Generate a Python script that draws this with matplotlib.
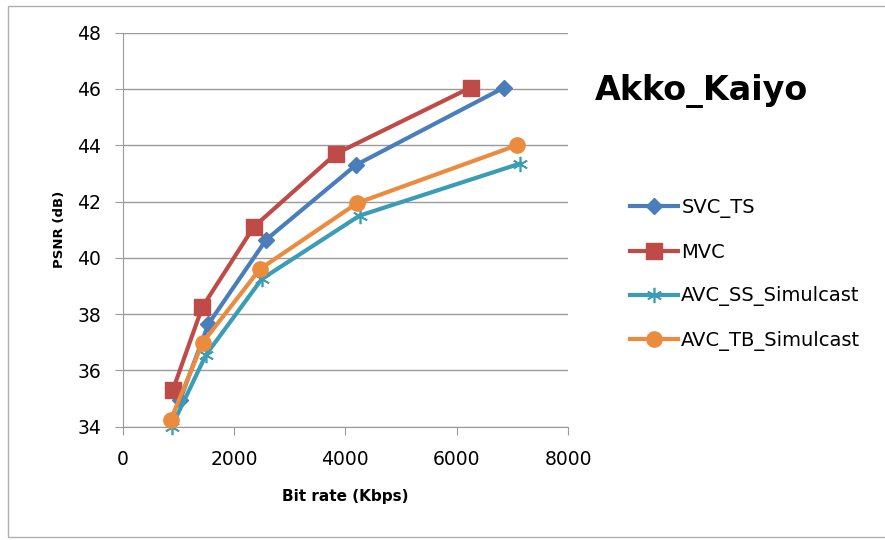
import matplotlib.pyplot as plt
from matplotlib.patches import Rectangle

plt.rcParams['font.family'] = ['DejaVu Sans']

# data
svc_x = [1030, 1540, 2580, 4190, 6850]
svc_y = [34.95, 37.65, 40.65, 43.3, 46.05]
mvc_x = [900, 1430, 2355, 3830, 6250]
mvc_y = [35.3, 38.25, 41.1, 43.7, 46.05]
ss_x = [880, 1495, 2500, 4255, 7140]
ss_y = [34.0, 36.55, 39.25, 41.5, 43.35]
tb_x = [865, 1435, 2465, 4215, 7080]
tb_y = [34.25, 36.98, 39.6, 41.95, 44.0]

labels = ['SVC_TS', 'MVC', 'AVC_SS_Simulcast', 'AVC_TB_Simulcast']
xticks = [0, 2000, 4000, 6000, 8000]
yticks = [34, 36, 38, 40, 42, 44, 46, 48]

W, H = 885, 540
fig = plt.figure(figsize=(W / 100, H / 100), dpi=100)
ax = fig.add_axes([122.7 / W, 1 - 426.7 / H, 445.3 / W, 394 / H])

# outer chart frame
fig.patches.append(Rectangle((8 / W, 1 - 537 / H), 1.0, (537 - 6) / H, transform=fig.transFigure,
                             fill=False, edgecolor='#b0b0b0', lw=1))

ax.plot(svc_x, svc_y, color='#4A7EBB', lw=3, marker='D', ms=8, label=labels[0], clip_on=False, zorder=3)
ax.plot(mvc_x, mvc_y, color='#BE4B48', lw=3, marker='s', ms=12, label=labels[1], clip_on=False, zorder=3)
ax.plot(ss_x, ss_y, color='#3A9DB5', lw=3, marker=(6, 2, 0), ms=11, mew=1.2, label=labels[2], clip_on=False, zorder=3)
ax.plot(tb_x, tb_y, color='#EB8B3E', lw=3, marker='o', ms=11, label=labels[3], clip_on=False, zorder=4)

ax.set_xlim(0, 8000)
ax.set_ylim(34, 48)
ax.set_xticks(xticks)
ax.set_yticks(yticks)
ax.grid(axis='y', color='#9a9a9a', lw=1)
ax.set_axisbelow(True)
for s in ['top', 'right']:
    ax.spines[s].set_visible(False)
for s in ['left', 'bottom']:
    ax.spines[s].set_color('#9a9a9a')
ax.tick_params(colors='#9a9a9a', labelcolor='black', labelsize=13.5, length=5.5, direction='out')
ax.tick_params(axis='x', pad=11)
ax.tick_params(axis='y', pad=10)

ax.set_xlabel('Bit rate (Kbps)', fontsize=11, fontweight='bold', labelpad=15)
ax.set_ylabel('PSNR (dB)', fontsize=9.5, fontweight='bold', labelpad=8)

fig.text(595 / W, 1 - 100 / H, 'Akko_Kaiyo', fontsize=24, fontweight='bold', va='baseline')

fig.legend(loc='center left', bbox_to_anchor=(622 / W, 1 - 274.5 / H), frameon=False, fontsize=14,
           handlelength=2.5, labelspacing=1.27, handletextpad=0.15, borderaxespad=0)

fig.savefig('out.png', dpi=100)
